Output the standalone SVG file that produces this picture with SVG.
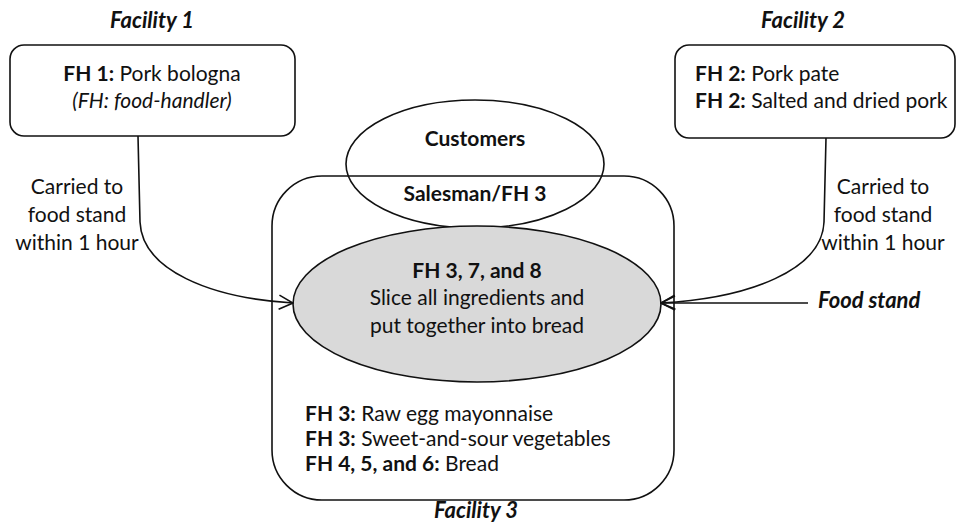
<svg xmlns="http://www.w3.org/2000/svg" width="959" height="526" viewBox="0 0 959 526">
<style>
text{font-family:"Lato","Open Sans","Liberation Sans",sans-serif;font-size:21px;fill:#111}
.b{font-weight:bold}
.bi{font-weight:bold;font-style:italic;font-size:22px}
.i{font-style:italic}
.c{text-anchor:middle}
.s{fill:none;stroke:#111;stroke-width:1.6}
</style>
<defs>
<marker id="arr" viewBox="0 0 16 16" refX="15" refY="8" markerWidth="16" markerHeight="16" markerUnits="userSpaceOnUse" orient="auto">
<path d="M1,1 L15,8 L1,15" fill="none" stroke="#111" stroke-width="1.6"/>
</marker>
</defs>
<g id="facility1">
<text class="bi c" x="152" y="28">Facility 1</text>
<rect class="s" x="10" y="45" width="285" height="91" rx="14" fill="#fff"/>
<text class="c" x="152" y="81"><tspan class="b">FH 1:</tspan> Pork bologna</text>
<text class="c i" x="152" y="108">(FH: food-handler)</text>
</g>
<g id="facility2">
<text class="bi c" x="803" y="28">Facility 2</text>
<rect class="s" x="675" y="45" width="280" height="93" rx="14" fill="#fff"/>
<text x="695" y="81"><tspan class="b">FH 2:</tspan> Pork pate</text>
<text x="695" y="108"><tspan class="b">FH 2:</tspan> Salted and dried pork</text>
</g>
<g id="facility3">
<rect class="s" x="272" y="176" width="402" height="324" rx="50"/>
<text class="bi c" x="476" y="518">Facility 3</text>
<text x="305" y="421"><tspan class="b">FH 3:</tspan> Raw egg mayonnaise</text>
<text x="305" y="446"><tspan class="b">FH 3:</tspan> Sweet-and-sour vegetables</text>
<text x="305" y="471"><tspan class="b">FH 4, 5, and 6:</tspan> Bread</text>
</g>
<g id="customers">
<ellipse class="s" cx="475" cy="164" rx="129" ry="64"/>
<text class="b c" x="475" y="146">Customers</text>
<text class="b c" x="475" y="201">Salesman/FH 3</text>
</g>
<g id="preparation">
<ellipse cx="477" cy="304" rx="184" ry="78" fill="#d9d9d9" stroke="#111" stroke-width="1.6"/>
<text class="b c" x="477" y="278">FH 3, 7, and 8</text>
<text class="c" x="477" y="305">Slice all ingredients and</text>
<text class="c" x="477" y="333">put together into bread</text>
</g>
<g id="foodstand">
<text class="bi" x="818" y="308">Food stand</text>
</g>
<g id="connectors">
<path class="s" d="M138,136 L140,222 C142,270 210,298 293,303" marker-end="url(#arr)"/>
<path class="s" d="M826,138 L824,222 C822,270 750,298 661,303" marker-end="url(#arr)"/>
<path class="s" d="M808,303 L661,303" marker-end="url(#arr)"/>
<text class="c" x="77" y="194">Carried to</text>
<text class="c" x="77" y="222">food stand</text>
<text class="c" x="77" y="250">within 1 hour</text>
<text class="c" x="883" y="194">Carried to</text>
<text class="c" x="883" y="222">food stand</text>
<text class="c" x="883" y="250">within 1 hour</text>
</g>
</svg>
